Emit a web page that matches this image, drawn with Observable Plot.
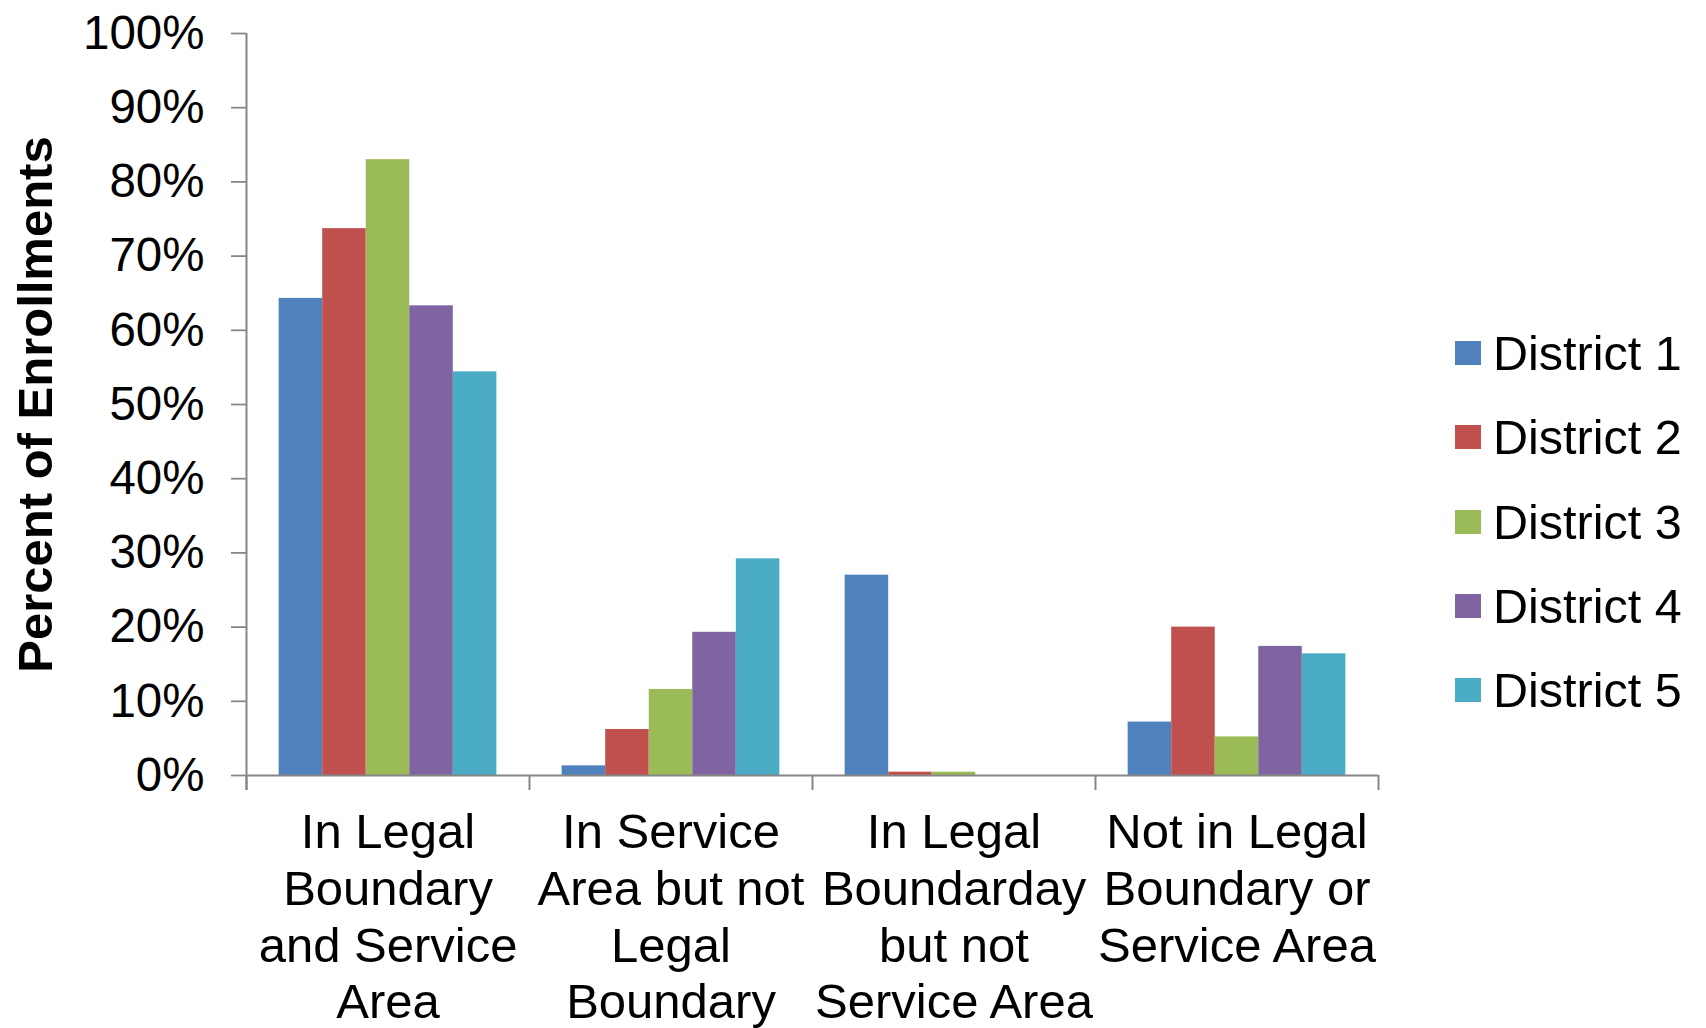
<!DOCTYPE html>
<html>
<head>
<meta charset="utf-8">
<script src="https://cdn.jsdelivr.net/npm/d3@7"></script>
<script src="https://cdn.jsdelivr.net/npm/@observablehq/plot@0.6"></script>
<style>
  html, body { margin: 0; padding: 0; background: #fff; }
  #wrap { position: relative; width: 1706px; height: 1028px; font-family: Arial, "Liberation Sans", sans-serif; }
  #legend { position: absolute; left: 1455px; top: 0; }
  .item { position: absolute; left: 0; display: flex; align-items: center; white-space: nowrap; font-size: 48.5px; color: #000; height: 50px; line-height: 50px; }
  .sw { width: 26px; height: 24px; margin-right: 12px; flex: none; }
</style>
</head>
<body>
<div id="wrap"></div>
<script>
// ---- data ----
const categories = [
  "In Legal\nBoundary\nand Service\nArea",
  "In Service\nArea but not\nLegal\nBoundary",
  "In Legal\nBoundarday\nbut not\nService Area",
  "Not in Legal\nBoundary or\nService Area"
];
const districts = ["District 1", "District 2", "District 3", "District 4", "District 5"];
const colors = ["#4F81BD", "#C0504D", "#9BBB59", "#8064A2", "#4BACC6"];
const district1 = [0.643, 0.013, 0.270, 0.072];
const district2 = [0.737, 0.062, 0.0045, 0.200];
const district3 = [0.830, 0.116, 0.0045, 0.052];
const district4 = [0.633, 0.193, 0.0, 0.174];
const district5 = [0.544, 0.292, 0.0, 0.164];
const yTicks = [0, 0.1, 0.2, 0.3, 0.4, 0.5, 0.6, 0.7, 0.8, 0.9, 1.0];
const yTitle = "Percent of Enrollments";

// ---- table for Plot ----
const series = [district1, district2, district3, district4, district5];
const rows = [];
districts.forEach((d, j) => categories.forEach((c, i) => {
  rows.push({category: c, district: d, slot: j, value: series[j][i]});
}));
const xDomain = [-0.75, districts.length + 0.75];

const axisColor = "#868686";
const font = "Arial, 'Liberation Sans', sans-serif";

const chart = Plot.plot({
  width: 1706,
  height: 1028,
  marginLeft: 245,
  marginRight: 328,
  marginTop: 33,
  marginBottom: 253,
  style: {fontFamily: font, background: "#fff", color: "#000"},
  fx: {domain: categories, padding: 0, axis: null},
  x: {domain: xDomain, axis: null},
  y: {domain: [0, 1]},
  color: {domain: districts, range: colors},
  marks: [
    Plot.rectY(rows, {fx: "category", x1: "slot", x2: d => d.slot + 1, y1: 0, y2: "value", fill: "district"}),
    Plot.ruleY([0], {stroke: axisColor, strokeWidth: 2}),
    Plot.ruleX([xDomain[0]], {y1: 1, y2: 0, insetBottom: -15, stroke: axisColor, strokeWidth: 2, facetAnchor: "left"}),
    Plot.ruleX([xDomain[0]], {y1: 0, y2: 0, insetBottom: -15, stroke: axisColor, strokeWidth: 2}),
    Plot.ruleX([xDomain[1]], {y1: 0, y2: 0, insetBottom: -15, stroke: axisColor, strokeWidth: 2, facetAnchor: "right"}),
    Plot.axisY(yTicks, {
      tickSize: 15, tickPadding: 27, tickFormat: d3.format(".0%"),
      stroke: axisColor, strokeWidth: 1.75, fill: "#000", fontSize: 47.5, label: null
    }),
    Plot.text(categories, {
      fx: d => d, text: d => d, frameAnchor: "bottom", lineAnchor: "top",
      dy: 32, fontSize: 49, lineHeight: 1.16, fill: "#000"
    }),
    Plot.text([yTitle], {
      text: d => d, frameAnchor: "left", textAnchor: "middle", rotate: -90, dx: -210, lineAnchor: "middle",
      fontSize: 49, fontWeight: "bold", fill: "#000", facetAnchor: "left"
    })
  ]
});

const wrap = document.getElementById("wrap");
wrap.appendChild(chart);

// ---- legend ----
const legend = document.createElement("div");
legend.id = "legend";
const legendCenters = [353, 437, 521.5, 606, 690];
districts.forEach((d, i) => {
  const item = document.createElement("div");
  item.className = "item";
  item.style.top = (legendCenters[i] - 25) + "px";
  const sw = document.createElement("span");
  sw.className = "sw";
  sw.style.background = colors[i];
  const tx = document.createElement("span");
  tx.textContent = d;
  item.appendChild(sw);
  item.appendChild(tx);
  legend.appendChild(item);
});
wrap.appendChild(legend);
</script>
</body>
</html>
